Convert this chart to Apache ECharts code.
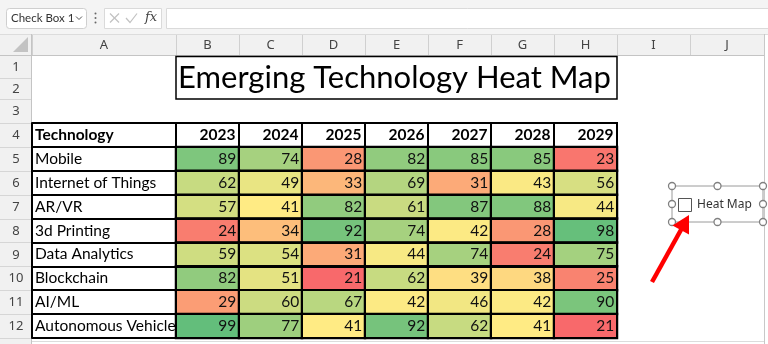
<!DOCTYPE html>
<html>
<head>
<meta charset="utf-8">
<script src="https://cdn.jsdelivr.net/npm/echarts@6/dist/echarts.min.js"></script>
<style>
html,body{margin:0;padding:0;background:#fff;}
#chart{width:768px;height:344px;}
</style>
</head>
<body>
<div id="chart"></div>
<script>
// ---- data ----
const titleText = 'Emerging Technology Heat Map';
const headerLabel = 'Technology';
const years = ['2023', '2024', '2025', '2026', '2027', '2028', '2029'];
const technologies = ['Mobile', 'Internet of Things', 'AR/VR', '3d Printing', 'Data Analytics', 'Blockchain', 'AI/ML', 'Autonomous Vehicle'];
const mobile            = [89, 74, 28, 82, 85, 85, 23];
const internetOfThings  = [62, 49, 33, 69, 31, 43, 56];
const arVr              = [57, 41, 82, 61, 87, 88, 44];
const printing3d        = [24, 34, 92, 74, 42, 28, 98];
const dataAnalytics     = [59, 54, 31, 44, 74, 24, 75];
const blockchain        = [82, 51, 21, 62, 39, 38, 25];
const aiMl              = [29, 60, 67, 42, 46, 42, 90];
const autonomousVehicle = [99, 77, 41, 92, 62, 41, 21];
const valueRows = [mobile, internetOfThings, arVr, printing3d, dataAnalytics, blockchain, aiMl, autonomousVehicle];
const colLetters = ['A', 'B', 'C', 'D', 'E', 'F', 'G', 'H', 'I', 'J'];
const rowLabels = ['1', '2', '3', '4', '5', '6', '7', '8', '9', '10', '11', '12'];
const nameBoxText = 'Check Box 1';
const checkboxText = 'Heat Map';

// ---- heatmap data from arrays ----
const heatData = [];
valueRows.forEach((row, i) => row.forEach((v, j) => heatData.push([years[j], technologies[i], v])));
const allVals = valueRows.flat();
const vMin = Math.min(...allVals), vMax = Math.max(...allVals);
const vMid = 41; // midpoint of the 3-colour scale

// Excel-like 3 colour scale red -> yellow -> green
function hex(c){return [parseInt(c.slice(1,3),16),parseInt(c.slice(3,5),16),parseInt(c.slice(5,7),16)];}
function mix(a,b,t){const A=hex(a),B=hex(b);return 'rgb('+A.map((x,k)=>Math.round(x+(B[k]-x)*t)).join(',')+')';}
const RED='#F8696B', YEL='#FFEB84', GRN='#63BE7B';
const stops=[];
for(let v=vMin; v<=vMax; v++){
  stops.push(v<=vMid ? mix(RED,YEL,(v-vMin)/(vMid-vMin)) : mix(YEL,GRN,(v-vMid)/(vMax-vMid)));
}

// ---- layout ----
const G = {left:176, top:123, width:441, height:215};
const cellFont = 'Lato';
const uiFont = 'Noto Sans';
const HEAD_TOP = 34, HEAD_BOT = 56, ROWHDR_W = 32;
const colW = G.width / years.length;
const colEdges = [ROWHDR_W, G.left];
for (let k=1;k<=years.length;k++) colEdges.push(G.left + colW*k);
colEdges.push(690, 764);
const rowH = G.height / (technologies.length + 1);
const rowEdges = [HEAD_BOT, 78, 99, G.top];
for (let k=1;k<=technologies.length+1;k++) rowEdges.push(G.top + rowH*k);

const gfx = [];
// formula bar background
gfx.push({type:'rect', shape:{x:0,y:0,width:768,height:HEAD_TOP}, style:{fill:'#f4f4f4'}, silent:true, z:1});
gfx.push({type:'rect', shape:{x:6.5,y:8.5,width:80,height:20,r:3}, style:{fill:'#fff',stroke:'#cfcfcf',lineWidth:1}, z:2});
gfx.push({type:'text', style:{x:11,y:18.5,text:nameBoxText,fontFamily:'Lato',fontSize:11.5,fill:'#333',verticalAlign:'middle'}, z:3});
gfx.push({type:'polyline', shape:{points:[[76,16.5],[79,19.5],[82,16.5]]}, style:{stroke:'#555',lineWidth:1,fill:null}, z:3});
[13.5,18,22.5].forEach(y=>gfx.push({type:'circle', shape:{cx:95.5,cy:y,r:1}, style:{fill:'#666'}, z:3}));
gfx.push({type:'rect', shape:{x:104.5,y:8.5,width:57,height:20}, style:{fill:'#fff',stroke:'#dadada',lineWidth:1}, z:2});
gfx.push({type:'polyline', shape:{points:[[110,13.5],[119,22.5]]}, style:{stroke:'#c2c2c2',lineWidth:1.2}, z:3});
gfx.push({type:'polyline', shape:{points:[[110,22.5],[119,13.5]]}, style:{stroke:'#c2c2c2',lineWidth:1.2}, z:3});
gfx.push({type:'polyline', shape:{points:[[126,18],[130,22.5],[137,13.5]]}, style:{stroke:'#c2c2c2',lineWidth:1.2,fill:null}, z:3});
gfx.push({type:'text', style:{x:145,y:18,text:'fx',fontFamily:'DejaVu Serif',fontStyle:'italic',fontSize:13,fill:'#444',verticalAlign:'middle'}, z:3});
gfx.push({type:'rect', shape:{x:166.5,y:8.5,width:603,height:20}, style:{fill:'#fff',stroke:'#dadada',lineWidth:1}, z:2});

// column header strip
gfx.push({type:'rect', shape:{x:0,y:HEAD_TOP,width:764,height:HEAD_BOT-HEAD_TOP}, style:{fill:'#f1f1f1'}, z:1});
gfx.push({type:'line', shape:{x1:0,y1:HEAD_TOP+0.5,x2:768,y2:HEAD_TOP+0.5}, style:{stroke:'#dcdcdc',lineWidth:1}, z:2});
gfx.push({type:'line', shape:{x1:0,y1:HEAD_BOT-0.5,x2:764,y2:HEAD_BOT-0.5}, style:{stroke:'#c4c4c4',lineWidth:1}, z:2});
for (let k=0;k<colEdges.length;k++){
  const x = Math.round(colEdges[k])+0.5;
  gfx.push({type:'line', shape:{x1:x,y1:HEAD_TOP+1,x2:x,y2:HEAD_BOT-1}, style:{stroke:'#d0d0d0',lineWidth:1}, z:2});
  if (k<colEdges.length-1){
    gfx.push({type:'text', style:{x:(colEdges[k]+colEdges[k+1])/2,y:(HEAD_TOP+HEAD_BOT)/2+0.5,text:colLetters[k],fontFamily:uiFont,fontSize:13,fill:'#444',align:'center',verticalAlign:'middle'}, z:3});
  }
}
// select-all triangle
gfx.push({type:'polygon', shape:{points:[[13,52],[28,52],[28,37]]}, style:{fill:'#c3c3c3'}, z:3});

// row header strip
gfx.push({type:'rect', shape:{x:0,y:HEAD_BOT,width:ROWHDR_W,height:344-HEAD_BOT}, style:{fill:'#f1f1f1'}, z:1});
gfx.push({type:'line', shape:{x1:ROWHDR_W-0.5,y1:HEAD_TOP,x2:ROWHDR_W-0.5,y2:344}, style:{stroke:'#c4c4c4',lineWidth:1}, z:2});
for (let k=0;k<rowEdges.length;k++){
  const y = Math.round(rowEdges[k])+0.5;
  if (k>0) gfx.push({type:'line', shape:{x1:0,y1:y,x2:ROWHDR_W-1,y2:y}, style:{stroke:'#d6d6d6',lineWidth:1}, z:2});
  if (k<rowLabels.length){
    gfx.push({type:'text', style:{x:16,y:(rowEdges[k]+rowEdges[k+1])/2+0.5,text:rowLabels[k],fontFamily:uiFont,fontSize:13,fill:'#444',align:'center',verticalAlign:'middle'}, z:3});
  }
}
// sheet frame
gfx.push({type:'line', shape:{x1:764.5,y1:HEAD_TOP,x2:764.5,y2:344}, style:{stroke:'#c8c8c8',lineWidth:1}, z:2});
gfx.push({type:'line', shape:{x1:ROWHDR_W,y1:341.5,x2:764,y2:341.5}, style:{stroke:'#dcdcdc',lineWidth:1}, z:2});

// title merged cell
gfx.push({type:'rect', shape:{x:G.left,y:56.5,width:G.width,height:42.5}, style:{fill:'#fff',stroke:'#000',lineWidth:1.5}, z:2});
gfx.push({type:'text', style:{x:G.left+G.width/2-2,y:78,text:titleText,fontFamily:cellFont,fontSize:31,fill:'#000',align:'center',verticalAlign:'middle'}, z:3});

// checkbox form control
gfx.push({type:'rect', shape:{x:672,y:186,width:91,height:36}, style:{fill:'#fff',stroke:'#9a9a9a',lineWidth:1}, z:4});
[[672,186],[717.5,186],[763,186],[672,204],[763,204],[672,222],[717.5,222],[763,222]].forEach(p=>
  gfx.push({type:'circle', shape:{cx:p[0],cy:p[1],r:3.5}, style:{fill:'#fff',stroke:'#808080',lineWidth:1.3}, z:5}));
gfx.push({type:'rect', shape:{x:678.5,y:198.5,width:13,height:13}, style:{fill:'#fff',stroke:'#555',lineWidth:1}, z:5});
gfx.push({type:'text', style:{x:697,y:205,text:checkboxText,fontFamily:uiFont,fontSize:12,fill:'#333',verticalAlign:'middle'}, z:5});
// red arrow
gfx.push({type:'line', shape:{x1:652,y1:282,x2:682,y2:228}, style:{stroke:'#ff0000',lineWidth:4.5,lineCap:'butt'}, z:6});
gfx.push({type:'polygon', shape:{points:[[689,215],[672.5,225.5],[689,234.5]]}, style:{fill:'#ff0000'}, z:6});

const chart = echarts.init(document.getElementById('chart'), null, {renderer:'canvas'});
chart.setOption({
  animation:false,
  backgroundColor:'#fff',
  grid:{left:G.left, top:G.top, width:G.width, height:G.height, show:true, borderColor:'#000', borderWidth:2, backgroundColor:'#fff', z:3},
  xAxis:{
    type:'category', data:years, position:'top', z:4,
    axisLine:{show:true, lineStyle:{color:'#000', width:2}},
    axisTick:{show:false},
    splitLine:{show:true, interval:0, lineStyle:{color:'#000', width:2}},
    axisLabel:{inside:true, margin:12, interval:0, verticalAlign:'middle', align:'center',
      formatter: v => '{y|' + v + '}',
      rich:{y:{width:colW-7, align:'right', fontFamily:cellFont, fontWeight:'bold', fontSize:15.5, color:'#000'}}}
  },
  yAxis:[{
    type:'category', data:[headerLabel].concat(technologies), inverse:true, z:4,
    axisLine:{show:true, lineStyle:{color:'#000', width:2}},
    axisTick:{show:true, interval:0, length:G.left-ROWHDR_W, lineStyle:{color:'#000', width:2}},
    splitLine:{show:true, interval:0, lineStyle:{color:'#000', width:2}},
    axisLabel:{interval:0, align:'left', margin:G.left-ROWHDR_W-3, fontFamily:cellFont, fontSize:15.5, color:'#000',
      formatter:(v,i)=> i===0 ? '{b|'+v+'}' : v,
      rich:{b:{fontFamily:cellFont, fontWeight:'bold', fontSize:15.5, color:'#000'}}}
  },{
    type:'category', data:[headerLabel].concat(technologies), inverse:true, position:'left', offset:G.left-ROWHDR_W, z:4,
    axisLine:{show:true, lineStyle:{color:'#000', width:2}},
    axisTick:{show:false}, axisLabel:{show:false}, splitLine:{show:false}
  }],
  visualMap:{type:'continuous', show:false, min:vMin, max:vMax, dimension:2, seriesIndex:0, inRange:{color:stops}},
  series:[{
    type:'heatmap', data:heatData, xAxisIndex:0, yAxisIndex:0, z:3,
    itemStyle:{borderColor:'#000', borderWidth:2},
    label:{show:true, position:'insideRight', distance:4, fontFamily:cellFont, fontSize:15.5, color:'#111'},
    emphasis:{disabled:true}
  }],
  graphic:{elements:gfx}
});
</script>
</body>
</html>
